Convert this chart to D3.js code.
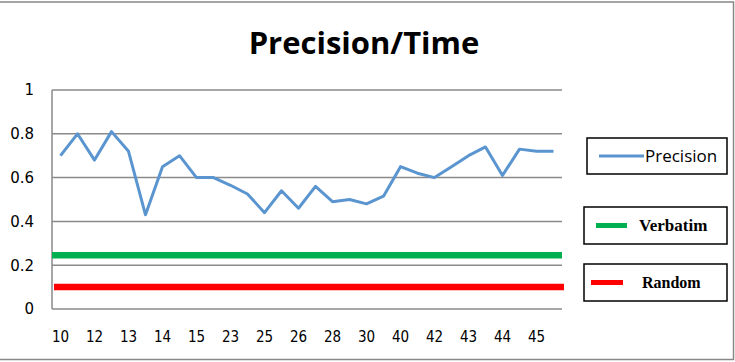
<!DOCTYPE html>
<html>
<head>
<meta charset="utf-8">
<script src="https://cdn.jsdelivr.net/npm/d3@7"></script>
<style>
  body { margin: 0; background: #fff; }
  svg { display: block; }
</style>
</head>
<body>
<svg id="chart" width="735" height="362"></svg>
<script>
// x labels, Excel shows every second category
var timeLabels = ["10", "12", "13", "14", "15", "23", "25", "26", "28", "30", "40", "42", "43", "44", "45"];
var precision = [0.70, 0.80, 0.68, 0.81, 0.72, 0.43, 0.65, 0.70, 0.60, 0.60,
                 0.565, 0.525, 0.44, 0.54, 0.46, 0.56, 0.49, 0.50, 0.48, 0.515,
                 0.65, 0.62, 0.60, 0.65, 0.70, 0.74, 0.61, 0.73, 0.72, 0.72];
var verbatim = 0.245;
var random = 0.10;
var yTicks = [0, 0.2, 0.4, 0.6, 0.8, 1];

var svg = d3.select('#chart');

// chart frame
svg.append('rect')
  .attr('x', -2).attr('y', 2)
  .attr('width', 735.5).attr('height', 357.5)
  .style('fill', 'none')
  .style('stroke', '#888')
  .style('stroke-width', 1.5);

var pLeft = 52, pRight = 562, pTop = 90, pBottom = 309;

var x = d3.scaleBand()
  .domain(d3.range(precision.length))
  .range([pLeft, pRight]);

var y = d3.scaleLinear()
  .domain([0, 1])
  .range([pBottom, pTop]);

// title
svg.append('text')
  .attr('x', 364)
  .attr('y', 54)
  .attr('text-anchor', 'middle')
  .text('Precision/Time')
  .style('font-family', 'Open Sans')
  .style('font-weight', 'bold')
  .style('font-size', '31px')
  .style('fill', '#000');

// gridlines
svg.append('g')
  .selectAll('line')
  .data(yTicks)
  .join('line')
  .attr('x1', pLeft)
  .attr('x2', pRight)
  .attr('y1', function (d) { return y(d); })
  .attr('y2', function (d) { return y(d); })
  .style('stroke', '#8a8a8a')
  .style('stroke-width', 1.5);

// left axis line
svg.append('line')
  .attr('x1', pLeft).attr('x2', pLeft)
  .attr('y1', y(1)).attr('y2', y(0))
  .style('stroke', '#8a8a8a')
  .style('stroke-width', 1.5);

var yAxis = svg.append('g')
  .attr('transform', `translate(${pLeft},0)`)
  .call(d3.axisLeft(y).tickValues(yTicks).tickSize(0).tickPadding(18).tickFormat(function (d) { return d; }));
yAxis.select('.domain').remove();
yAxis.selectAll('text')
  .style('font-family', 'DejaVu Sans')
  .style('font-size', '15px')
  .style('fill', '#000');

var xAxis = svg.append('g')
  .attr('transform', `translate(0,${pBottom})`)
  .call(d3.axisBottom(x)
    .tickValues(d3.range(0, precision.length, 2))
    .tickSize(0)
    .tickPadding(22)
    .tickFormat(function (d, i) { return timeLabels[i]; }));
xAxis.select('.domain').remove();
xAxis.selectAll('text')
  .style('font-family', 'DejaVu Sans Condensed')
  .style('font-size', '15px')
  .style('fill', '#000');

// constant baselines
svg.append('line')
  .attr('x1', pLeft).attr('x2', pRight)
  .attr('y1', y(verbatim)).attr('y2', y(verbatim))
  .style('stroke', '#00b050')
  .style('stroke-width', 6.5);

svg.append('line')
  .attr('x1', pLeft + 2).attr('x2', pRight + 2)
  .attr('y1', y(random)).attr('y2', y(random))
  .style('stroke', '#ff0000')
  .style('stroke-width', 6.5);

// precision line
var line = d3.line()
  .x(function (d, i) { return x(i) + x.bandwidth() / 2; })
  .y(function (d) { return y(d); });

svg.append('path')
  .datum(precision)
  .attr('d', line)
  .style('fill', 'none')
  .style('stroke', '#5b95d0')
  .style('stroke-width', 3)
  .style('stroke-linejoin', 'round');

// legend boxes
var legend = [
  { name: 'Precision', color: '#5b95d0', w: 3, box: [587, 138, 140, 36], l: [599, 644], tx: 645, font: 'Open Sans', size: '17px', weight: 'normal' },
  { name: 'Verbatim', color: '#00b050', w: 5, box: [584, 207, 143, 37], l: [596, 627], tx: 639, font: 'Liberation Serif', size: '17px', weight: 'bold' },
  { name: 'Random', color: '#ff0000', w: 5, box: [584, 264, 143, 37], l: [591, 623], tx: 642, font: 'Liberation Serif', size: '16px', weight: 'bold' }
];

var lg = svg.append('g').selectAll('g')
  .data(legend)
  .join('g');

lg.append('rect')
  .attr('x', function (d) { return d.box[0]; })
  .attr('y', function (d) { return d.box[1]; })
  .attr('width', function (d) { return d.box[2]; })
  .attr('height', function (d) { return d.box[3]; })
  .style('fill', '#fff')
  .style('stroke', '#000')
  .style('stroke-width', 1.5);

lg.append('line')
  .attr('x1', function (d) { return d.l[0]; })
  .attr('x2', function (d) { return d.l[1]; })
  .attr('y1', function (d) { return d.box[1] + d.box[3] / 2; })
  .attr('y2', function (d) { return d.box[1] + d.box[3] / 2; })
  .style('stroke', function (d) { return d.color; })
  .style('stroke-width', function (d) { return d.w; });

lg.append('text')
  .attr('x', function (d) { return d.tx; })
  .attr('y', function (d) { return d.box[1] + d.box[3] / 2; })
  .attr('dy', '0.35em')
  .text(function (d) { return d.name; })
  .style('font-family', function (d) { return d.font; })
  .style('font-size', function (d) { return d.size; })
  .style('font-weight', function (d) { return d.weight; })
  .style('fill', '#000');
</script>
</body>
</html>
